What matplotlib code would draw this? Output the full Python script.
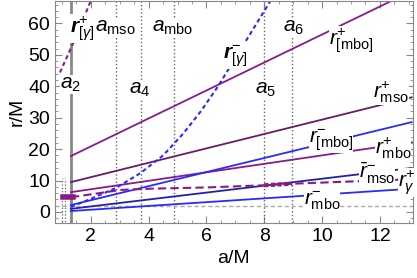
import matplotlib.pyplot as plt
import numpy as np

plt.rcParams['font.family'] = 'Liberation Sans'
plt.rcParams['mathtext.fontset'] = 'custom'
plt.rcParams['mathtext.rm'] = 'Liberation Sans'
plt.rcParams['mathtext.it'] = 'Liberation Sans:italic'
plt.rcParams['mathtext.bf'] = 'Liberation Sans:bold:italic'

# straight lines: values at a = 1.31 and a = 13.1
a_lin = [1.31, 13.1]
r_mbo_br_plus = [17.8, 70.3]
r_mso_plus = [9.5, 36.5]
r_mbo_plus = [6.3, 22.2]
r_mbo_br_minus = [2.2, 28.6]
r_mso_minus = [1.0, 14.0]
r_mbo_minus = [0.3, 7.4]

# curves
a_gp = [1.31, 2.3, 3.0, 4.0, 6.0, 8.0, 9.0, 11.0, 13.1]
r_gp = [4.7, 6.0, 7.0, 7.4, 7.8, 8.5, 9.0, 9.7, 10.4]

a_gbp = [0.93, 1.38, 1.72, 2.0]
r_gbp = [44.4, 53.6, 61.0, 67.3]

a_gbm = [1.31, 2.0, 2.86, 3.72, 4.5, 5.2, 5.8, 6.4, 7.0, 7.6, 8.2]
r_gbm = [1.6, 4.2, 7.6, 12.4, 18.0, 25.0, 32.0, 40.0, 49.0, 58.0, 67.0]

# vertical markers
a_2 = 1.31
a_dotted = [2.86, 3.72, 4.86, 8.0, 8.97]
a_short = [1.0, 1.12]

purple = '#8a1a8a'
dpurple = '#6a1a6a'
blue = '#2a2aff'
dblue = '#2222a8'

fig = plt.figure(figsize=(4.17, 2.78), dpi=100)
ax = fig.add_axes([0.132, 0.198, 0.858, 0.80])

ax.axhline(2, color='#aaaaaa', ls=(0, (3, 2)), lw=1)
ax.axvline(a_2, color='#888888', lw=2)
for a in a_dotted:
    ax.axvline(a, color='#666666', ls=':', lw=1)
for a in a_short:
    ax.plot([a, a], [-4, 10.8], color='#666666', ls=':', lw=0.9)

ax.plot(a_lin, r_mbo_br_plus, color=purple, lw=1.3)
ax.plot(a_lin, r_mso_plus, color=dpurple, lw=1.3)
ax.plot(a_lin, r_mbo_plus, color=purple, lw=1.3)
ax.plot(a_lin, r_mbo_br_minus, color=blue, lw=1.3)
ax.plot(a_lin, r_mso_minus, color=dblue, lw=1.3)
ax.plot(a_lin, r_mbo_minus, color=blue, lw=1.3)

ax.plot(a_gp, r_gp, color=purple, lw=1.5, ls=(0, (4, 2)))
ax.plot([8.0, 8.97], [8.5, 9.0], color=purple, lw=3, ls=(0, (1, 0.6)))
ax.plot([1.03, 1.38], [4.7, 4.7], color=purple, lw=4)
ax.plot(a_gbp, r_gbp, color=purple, lw=1.5, ls=(0, (2, 1.5)))
ax.plot(a_gbm, r_gbm, color=blue, lw=1.5, ls=(0, (2, 1.5)))

lab = dict(fontsize=15, ha='center', va='center',
           bbox=dict(facecolor='white', edgecolor='none', pad=0))
ax.text(1.72, 58.4, r'$\mathbf{r}^{+}_{[\gamma]}$', **lab)
ax.text(2.85, 58.7, r'$a_{\rm mso}$', **lab)
ax.text(4.83, 58.7, r'$a_{\rm mbo}$', **lab)
ax.text(9.0, 58.7, r'$a_{6}$', **lab)
ax.text(11.0, 54.6, r'$r^{+}_{[\rm mbo]}$', **lab)
ax.text(1.31, 40.6, r'$a_{2}$', **lab)
ax.text(3.69, 39.0, r'$a_{4}$', **lab)
ax.text(7.0, 49.5, r'$\mathbf{r}^{-}_{[\gamma]}$', **lab)
ax.text(8.03, 39.0, r'$a_{5}$', **lab)
ax.text(12.4, 38.0, r'$r^{+}_{\rm mso}$', **lab)
ax.text(10.3, 22.9, r'$r^{-}_{[\rm mbo]}$', **lab)
ax.text(12.45, 20.4, r'$r^{+}_{\rm mbo}$', **lab)
ax.text(11.9, 12.2, r'$\bar{r}^{-}_{\rm mso}$', **lab)
ax.text(12.95, 9.3, r'$r^{+}_{\gamma}$', clip_on=False, **lab)
ax.text(10.0, 3.6, r'$r^{-}_{\rm mbo}$', **lab)

ax.set_xlim(0.76, 13.14)
ax.set_ylim(-3.5, 67.3)
ax.set_xticks([2, 4, 6, 8, 10, 12])
ax.set_yticks([0, 10, 20, 30, 40, 50, 60])
ax.set_xticks(np.arange(1, 13.5, 0.5), minor=True)
ax.set_yticks(np.arange(-2, 67, 2), minor=True)
ax.tick_params(which='both', direction='in', top=True, right=True, color='#888888')
ax.tick_params(which='major', length=5, labelsize=14)
ax.tick_params(which='minor', length=2.5)
for s in ax.spines.values():
    s.set_color('#888888')

ax.set_xlabel('a/M', fontsize=14)
ax.set_ylabel('r/M', fontsize=14, labelpad=2)

fig.savefig('out.png', dpi=100)
